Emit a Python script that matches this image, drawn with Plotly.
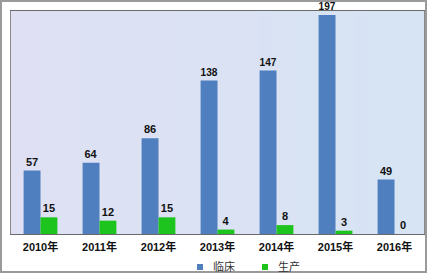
import plotly.graph_objects as go

years = ["2010年", "2011年", "2012年", "2013年", "2014年", "2015年", "2016年"]
clinical = [57, 64, 86, 138, 147, 197, 49]
production = [15, 12, 15, 4, 8, 3, 0]
series_names = ["临床", "生产"]
colors = ["#4f7fbe", "#1ec41e"]

FONT = "Arial, 'Liberation Sans', 'Noto Sans CJK SC', sans-serif"
W, H = 427, 274
ML, MR, MT, MB = 11, 3, 11, 40
PW, PH = W - ML - MR, H - MT - MB

def px(x):
    return (x - ML) / PW

def py(y):
    return (H - MB - y) / PH

fig = go.Figure()
for name, vals, col in zip(series_names, [clinical, production], colors):
    fig.add_trace(go.Bar(
        x=years, y=vals, name=name, marker=dict(color=col, line=dict(width=0)),
        text=[str(v) for v in vals], textposition="outside", cliponaxis=False,
        textfont=dict(family=FONT, size=11, color="#111111", weight="bold"),
        showlegend=False,
    ))

# subtle horizontal gradient background in plot area
n = 30
c0 = (0xdf, 0xe0, 0xf4)
c1 = (0xd6, 0xe4, 0xf4)
shapes = []
for i in range(n):
    t = i / (n - 1)
    c = tuple(round(a + (b - a) * t) for a, b in zip(c0, c1))
    shapes.append(dict(type="rect", xref="x domain", yref="y domain",
                       x0=i / n, x1=(i + 1) / n + 0.002, y0=0, y1=1,
                       fillcolor="rgb(%d,%d,%d)" % c, line=dict(width=0), layer="below"))
# outer frame
shapes.append(dict(type="rect", xref="paper", yref="paper", x0=px(1), x1=px(426),
                   y0=py(272), y1=py(1), line=dict(color="#9a9a9a", width=2),
                   fillcolor="rgba(0,0,0,0)", layer="above"))

# legend (manual): squares + labels
annotations = []
leg_sq = [197, 262]
leg_tx = [211, 276]
for name, col, sx, tx in zip(series_names, colors, leg_sq, leg_tx):
    shapes.append(dict(type="rect", xref="paper", yref="paper",
                       x0=px(sx), x1=px(sx + 6), y0=py(270), y1=py(264),
                       fillcolor=col, line=dict(width=0)))
    annotations.append(dict(xref="paper", yref="paper", x=px(tx), y=py(266.5),
                            xanchor="left", yanchor="middle", text=name, showarrow=False,
                            font=dict(family=FONT, size=11, color="#333333")))

fig.update_layout(
    width=W, height=H,
    margin=dict(l=ML, r=MR, t=MT, b=MB, autoexpand=False),
    paper_bgcolor="white", plot_bgcolor="#dbe2f4",
    barmode="group", bargap=0.427, bargroupgap=0,
    font=dict(family=FONT, size=11, color="#111111"),
    shapes=shapes, annotations=annotations,
    showlegend=False,
)
fig.update_xaxes(showgrid=False, showline=True, linecolor="#6a6a6a", linewidth=1,
                 mirror=True, ticks="", ticklabelstandoff=3,
                 tickfont=dict(family=FONT, size=11, weight="bold", color="#111111"),
                 range=[-0.5, 6.5])
fig.update_yaxes(range=[0, 200.5], showgrid=False, showticklabels=False, zeroline=False,
                 showline=True, linecolor="#8a8a8a", linewidth=1, mirror=True, ticks="")

fig.write_html("out.html")
